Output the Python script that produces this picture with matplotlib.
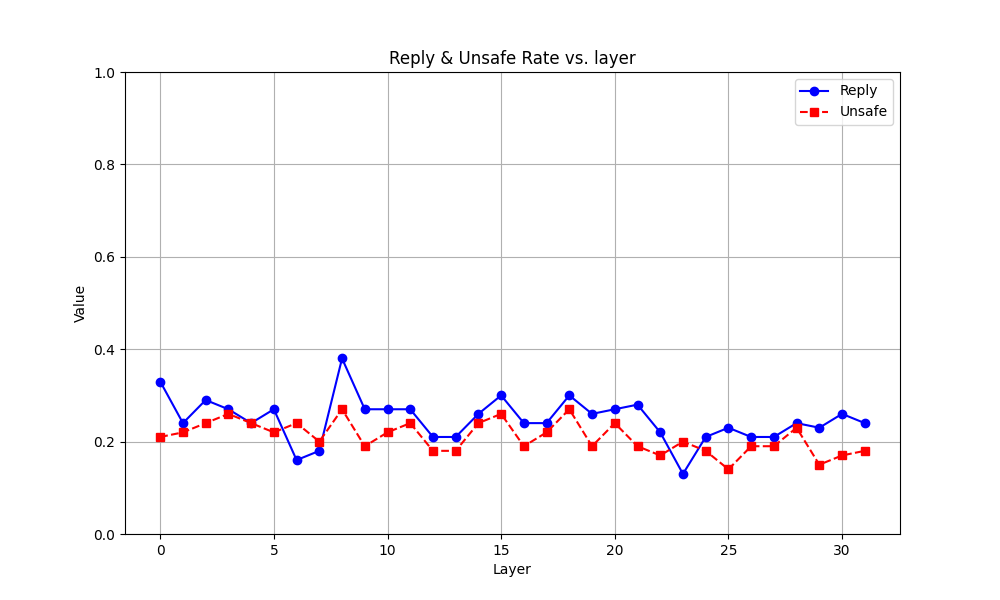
import matplotlib
matplotlib.use("Agg")
import matplotlib.pyplot as plt

layers = list(range(32))
reply = [0.33, 0.24, 0.29, 0.27, 0.24, 0.27, 0.16, 0.18, 0.38, 0.27, 0.27, 0.27,
         0.21, 0.21, 0.26, 0.30, 0.24, 0.24, 0.30, 0.26, 0.27, 0.28, 0.22, 0.13,
         0.21, 0.23, 0.21, 0.21, 0.24, 0.23, 0.26, 0.24]
unsafe = [0.21, 0.22, 0.24, 0.26, 0.24, 0.22, 0.24, 0.20, 0.27, 0.19, 0.22, 0.24,
          0.18, 0.18, 0.24, 0.26, 0.19, 0.22, 0.27, 0.19, 0.24, 0.19, 0.17, 0.20,
          0.18, 0.14, 0.19, 0.19, 0.23, 0.15, 0.17, 0.18]

fig, ax = plt.subplots(figsize=(10, 6), dpi=100)
ax.plot(layers, reply, "b-o", label="Reply")
ax.plot(layers, unsafe, "r--s", label="Unsafe")
ax.set_ylim(0, 1.0)
ax.set_xlabel("Layer")
ax.set_ylabel("Value")
ax.set_title("Reply & Unsafe Rate vs. layer")
ax.grid(True)
ax.legend()
fig.savefig("out.png")
